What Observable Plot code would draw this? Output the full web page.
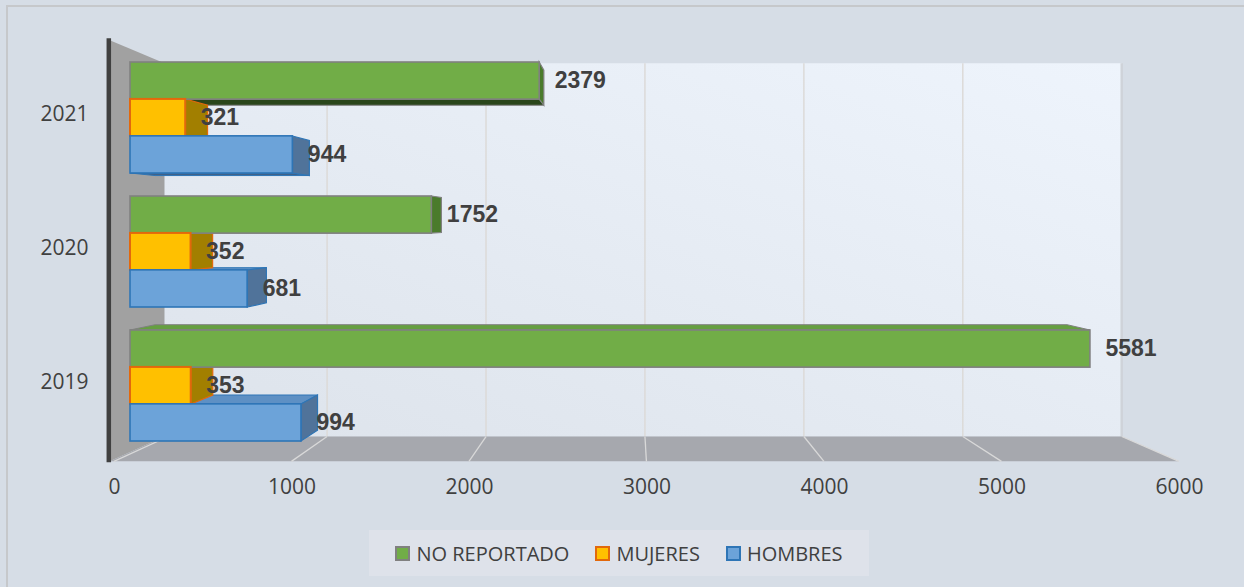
<!DOCTYPE html>
<html>
<head>
<meta charset="utf-8">
<script src="https://cdn.jsdelivr.net/npm/d3@7"></script>
<script src="https://cdn.jsdelivr.net/npm/@observablehq/plot@0.6"></script>
<style>
  html, body { margin: 0; padding: 0; background: #d6dde6; width: 1244px; height: 587px; overflow: hidden; font-family: "Open Sans", sans-serif; }
  #frameTop { position: absolute; left: 6px; top: 5px; width: 1238px; height: 2px; background: #c6c8cb; }
  #frameLeft { position: absolute; left: 6px; top: 5px; width: 2px; height: 582px; background: #c6c8cb; }
  #cover { position: absolute; left: 1226px; top: 7px; width: 18px; height: 580px; background: #d6dde6; z-index: 10; }
  #chart { position: absolute; left: 0; top: 0; }
  #legend { position: absolute; left: 369px; top: 530px; width: 500px; height: 46px; background: #dee2ea; display: flex; align-items: center; justify-content: center; font-size: 20px; color: #404040; }
  .item { display: flex; align-items: center; margin: 0 13px; }
  .sw { width: 11px; height: 11px; border: 2px solid; margin-right: 6px; }
</style>
</head>
<body>
<div id="frameTop"></div>
<div id="frameLeft"></div>
<div id="chart"></div>
<div id="legend"></div>
<div id="cover"></div>
<script>
// ---- data ----
const years = ["2021", "2020", "2019"];
const seriesNames = ["NO REPORTADO", "MUJERES", "HOMBRES"];
const noReportado = [2379, 1752, 5581];
const mujeres = [321, 352, 353];
const hombres = [944, 681, 994];
const xTicks = [0, 1000, 2000, 3000, 4000, 5000, 6000];

const palette = {
  "NO REPORTADO": {front: "#71ad47", stroke: "#808080", side: "#4a7b2c", top: "#659f40", bottom: "#2a461b"},
  "MUJERES":      {front: "#ffc000", stroke: "#e2680c", side: "#a27f00", top: "#d5a300", bottom: "#866800"},
  "HOMBRES":      {front: "#6ca3d9", stroke: "#2e75b6", side: "#50739a", top: "#5e90c4", bottom: "#3f6188"}
};

const seriesValues = [noReportado, mujeres, hombres];
const rows = seriesNames.flatMap((s, j) => years.map((y, i) => ({year: y, series: s, value: seriesValues[j][i], j})));

// ---- layout ----
const W = 1244, H = 520, mL = 130, mR = 82, mT = 60, mB = 78;
const padIn = 0.175, padOut = 0.01;
const step = (H - mT - mB) / (years.length - padIn + 2 * padOut);
const bandW = step * (1 - padIn);
const third = bandW / 3;
const PXU = (W - mL - mR) / 6000;

// pseudo-3D perspective (vanishing point + depth factors)
const VX = 632, VY = 224;
const K_FRONT = 1.032, K_BARBACK = 0.95, K_WALL = 0.924;
const proj = (X, Y, k) => [VX + k * (X - VX), VY + k * (Y - VY)];
const frontEdge = v => ((VX + K_FRONT * (mL + PXU * v - VX)) - mL) / PXU;
const path = pts => "M" + pts.map(p => p[0].toFixed(2) + "," + p[1].toFixed(2)).join("L") + "Z";

function findScales(args) {
  return args.find(a => a && typeof a.x === "function");
}

function walls(...args) {
  const x = findScales(args).x;
  const left = x(0) - 4, right = x(6000);
  const top = mT - 10, floor = H - mB + 12;
  const g = d3.create("svg:g");
  const a = proj(left, top, K_WALL), b = proj(right, floor, K_WALL);
  g.append("path").attr("d", path([a, [b[0], a[1]], b, [a[0], b[1]]])).attr("fill", "url(#wallGrad)");
  for (const v of xTicks.slice(1)) {
    const p0 = proj(x(v), top, K_WALL), p1 = proj(x(v), floor, K_WALL);
    g.append("line").attr("x1", p0[0]).attr("y1", p0[1]).attr("x2", p1[0]).attr("y2", p1[1])
      .attr("stroke", v === 6000 ? "#cfd3d9" : "#dcdad8").attr("stroke-width", v === 6000 ? 2.5 : 1.5);
  }
  g.append("path").attr("d", path([proj(left, top - 4, K_FRONT), proj(left, top, K_WALL), proj(left, floor, K_WALL), proj(left, floor, K_FRONT)]))
    .attr("fill", "#a1a1a1");
  g.append("path").attr("d", path([proj(left, floor, K_FRONT), proj(right, floor, K_FRONT), proj(right, floor, K_WALL), proj(left, floor, K_WALL)]))
    .attr("fill", "#a6a8ae");
  for (const v of xTicks) {
    const p0 = proj(x(v), floor, K_FRONT), p1 = proj(x(v), floor, K_WALL);
    g.append("line").attr("x1", p0[0]).attr("y1", p0[1]).attr("x2", p1[0]).attr("y2", p1[1])
      .attr("stroke", "#d9d9d9").attr("stroke-width", 1.3);
  }
  const t0 = proj(left, top - 6, K_FRONT), t1 = proj(left, floor, K_FRONT);
  g.append("line").attr("x1", t0[0] - 1).attr("y1", t0[1]).attr("x2", t1[0] - 1).attr("y2", t1[1] + 1)
    .attr("stroke", "#404040").attr("stroke-width", 4.5);
  return g.node();
}

function barDepth(...args) {
  const scales = findScales(args);
  const x = scales.x, y = scales.y;
  const band = typeof y.bandwidth === "function" ? y.bandwidth() : bandW;
  const t = band / 3;
  const g = d3.create("svg:g");
  const items = rows.map(r => {
    const y0 = y(r.year) + r.j * t;
    return {r, x0: x(0), x1: x(r.value), y0, y1: y0 + t};
  }).sort((A, B) => Math.abs((B.y0 + B.y1) / 2 - VY) - Math.abs((A.y0 + A.y1) / 2 - VY));
  const P = (X, Y) => proj(X, Y, K_BARBACK);
  for (const {r, x0, x1, y0, y1} of items) {
    const c = palette[r.series];
    if (y0 > VY) {
      g.append("path").attr("d", path([[x0, y0], [x1, y0], P(x1, y0), P(x0, y0)]))
        .attr("fill", c.top).attr("stroke", c.stroke).attr("stroke-width", 1);
    }
    if (y1 < VY) {
      g.append("path").attr("d", path([[x0, y1], [x1, y1], P(x1, y1), P(x0, y1)]))
        .attr("fill", c.bottom).attr("stroke", c.stroke).attr("stroke-width", 1);
    }
    if (x1 < VX) {
      g.append("path").attr("d", path([[x1, y0], P(x1, y0), P(x1, y1), [x1, y1]]))
        .attr("fill", c.side).attr("stroke", c.stroke).attr("stroke-width", 1.2);
    }
  }
  return g.node();
}

const frontBars = seriesNames.map((s, j) => Plot.barX(rows.filter(r => r.series === s), {
  x: "value", y: "year",
  fill: palette[s].front, stroke: palette[s].stroke, strokeWidth: s === "MUJERES" ? 2 : 1.6,
  insetTop: j * third, insetBottom: (2 - j) * third
}));

const labels = seriesNames.map((s, j) => Plot.text(rows.filter(r => r.series === s), {
  x: "value", y: "year", text: d => String(d.value),
  dx: 15, dy: (j - 1) * third, textAnchor: "start",
  fontWeight: "bold", fontSize: 23, fontFamily: "Liberation Sans, Arial, sans-serif", fill: "#404040"
}));

const chart = Plot.plot({
  width: W, height: H,
  marginLeft: mL, marginRight: mR, marginTop: mT, marginBottom: mB,
  style: {background: "transparent", fontFamily: "Open Sans, sans-serif", fontSize: "21px", color: "#404040", overflow: "visible"},
  x: {domain: [0, 6000], axis: null},
  y: {domain: years, paddingInner: padIn, paddingOuter: padOut, axis: null},
  marks: [
    walls,
    barDepth,
    ...frontBars,
    ...labels,
    Plot.text(years, {y: d => d, text: d => d, frameAnchor: "left", dx: -42, dy: -4, textAnchor: "end",
      fontSize: 21, fill: "#404040"}),
    Plot.text(xTicks, {x: d => frontEdge(d), text: d => String(d), frameAnchor: "bottom", dy: 51,
      fontSize: 21, fill: "#404040"})
  ]
});

const defs = d3.select(chart).insert("defs", ":first-child");
const lg = defs.append("linearGradient").attr("id", "wallGrad")
  .attr("x1", "0").attr("y1", "1").attr("x2", "1").attr("y2", "0");
lg.append("stop").attr("offset", "0").attr("stop-color", "#dde3eb");
lg.append("stop").attr("offset", "1").attr("stop-color", "#eef4fc");

document.getElementById("chart").appendChild(chart);

const legend = d3.select("#legend");
seriesNames.forEach(s => {
  const it = legend.append("div").attr("class", "item");
  it.append("div").attr("class", "sw").style("background", palette[s].front).style("border-color", palette[s].stroke);
  it.append("span").text(s);
});
</script>
</body>
</html>
